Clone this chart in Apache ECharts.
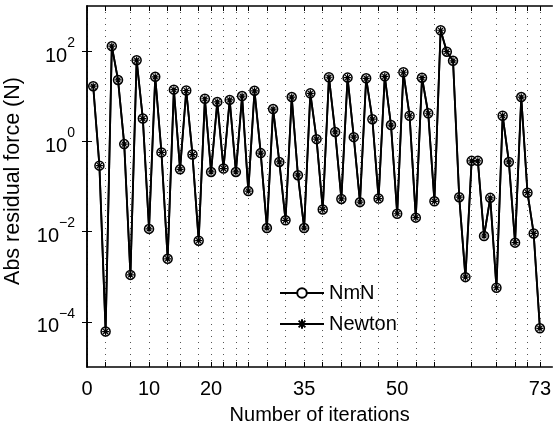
<!DOCTYPE html>
<html>
<head>
<meta charset="utf-8">
<script src="https://cdn.jsdelivr.net/npm/echarts@6/dist/echarts.min.js"></script>
<style>
html,body{margin:0;padding:0;background:#fff;}
#chart{width:554px;height:430px;}
</style>
</head>
<body>
<div id="chart"></div>
<script>
// iteration index 1..73
const iterations = [1,2,3,4,5,6,7,8,9,10,11,12,13,14,15,16,17,18,19,20,21,22,23,24,25,26,27,28,29,30,31,32,33,34,35,36,37,38,39,40,41,42,43,44,45,46,47,48,49,50,51,52,53,54,55,56,57,58,59,60,61,62,63,64,65,66,67,68,69,70,71,72,73];
// absolute residual force (N)
const residual = [16.7,0.29,6.1e-5,129,23,0.87,1.1e-3,63,3.2,0.0115,27,0.57,2.5e-3,14,0.24,13.4,0.51,6.3e-3,8.8,0.21,7.5,0.25,8.3,0.21,10.1,0.079,13.2,0.55,0.012,5.2,0.35,0.0178,9.6,0.178,0.012,11.6,1.12,0.031,26.4,1.62,0.053,25.9,1.24,0.045,25,3.1,0.054,27.7,2.3,0.0249,34,3.7,0.0204,25.8,4.2,0.047,290,97,61,0.058,9.8e-4,0.37,0.37,8e-3,0.056,5.7e-4,3.7,0.35,5.7e-3,9.6,0.073,9.1e-3,7.2e-5];
const seriesNames = ['NmN','Newton'];
// x tick / grid positions and labels
const xTickValues = [0,3,7,10,13,15,18,20,22,24,26,29,32,35,38,41,44,47,50,53,56,62,66,69,71,73];
const xLabelValues = [0,10,20,35,50,73];
const yTickValues = [1e-4,1e-2,1,1e2];
const xTitle = 'Number of iterations';
const yTitle = 'Abs residual force (N)';

const pts = iterations.map((x,i)=>[x, residual[i]]);
const asterisk = 'path://M0,-10L0,10M-10,0L10,0M-7,-7L7,7M-7,7L7,-7';
const FONT = 'Liberation Sans, Arial, Helvetica, sans-serif';

const chart = echarts.init(document.getElementById('chart'), null, {renderer:'canvas'});
const axisLine = {show:true, lineStyle:{color:'#000', width:1.5}};
const option = {
  animation:false,
  backgroundColor:'#fff',
  textStyle:{fontFamily:FONT},
  grid:{left:87, top:6, width:469, height:366, containLabel:false},
  legend:{
    orient:'vertical', left:274, top:278, itemWidth:44, itemHeight:12, itemGap:11,
    textStyle:{fontSize:20, color:'#000', fontFamily:FONT},
    data:seriesNames
  },
  graphic:[{
    type:'text', left:2, top:'middle', rotation:Math.PI/2,
    x:0, y:0,
    style:{text:yTitle, fontSize:21.5, fontFamily:FONT, fill:'#000', textAlign:'center', textVerticalAlign:'middle'},
    position:[13,181]
  }],
  xAxis:[{
    type:'value', min:0, max:75, position:'bottom',
    axisLine:axisLine,
    axisTick:{show:true, inside:true, length:5, customValues:xTickValues, lineStyle:{color:'#000', width:1}},
    axisLabel:{show:true, customValues:xLabelValues, fontSize:20, color:'#000', margin:12, fontFamily:FONT},
    splitLine:{show:true, lineStyle:{color:'#555', width:1, type:[1,5]}},
    name:xTitle, nameLocation:'middle', nameGap:38,
    nameTextStyle:{fontSize:20, color:'#000', fontFamily:FONT}
  },{
    type:'value', min:0, max:75, position:'top',
    axisLine:axisLine,
    axisTick:{show:true, inside:true, length:5, customValues:xTickValues, lineStyle:{color:'#000', width:1}},
    axisLabel:{show:false}, splitLine:{show:false}
  }],
  yAxis:[{
    type:'log', min:1e-5, max:1e3, position:'left',
    axisLine:axisLine,
    axisTick:{show:true, inside:true, length:5, customValues:yTickValues, lineStyle:{color:'#000', width:1}},
    minorTick:{show:false},
    axisLabel:{show:true, customValues:yTickValues, margin:12, color:'#000',
      formatter:function(v){
        const e = Math.round(Math.log10(v));
        return '{b|10}{s|' + (e<0?'\u2212':'') + Math.abs(e) + '}';
      },
      rich:{
        b:{fontSize:20, fontFamily:FONT, color:'#000', lineHeight:30, verticalAlign:'bottom'},
        s:{fontSize:14, fontFamily:FONT, color:'#000', lineHeight:14, verticalAlign:'top'}
      }
    },
    splitLine:{show:false}
  },{
    type:'log', min:1e-5, max:1e3, position:'right',
    axisLine:axisLine,
    axisTick:{show:true, inside:true, length:5, customValues:yTickValues, lineStyle:{color:'#000', width:1}},
    axisLabel:{show:false}, splitLine:{show:false}
  }],
  series:[{
    name:seriesNames[0], type:'line', xAxisIndex:0, yAxisIndex:0, data:pts,
    symbol:'circle', symbolSize:9, showAllSymbol:true,
    lineStyle:{color:'#000', width:1.8},
    itemStyle:{color:'#fff', borderColor:'#000', borderWidth:1.5},
    z:2
  },{
    name:seriesNames[1], type:'line', xAxisIndex:0, yAxisIndex:0, data:pts,
    symbol:asterisk, symbolSize:7, showAllSymbol:true,
    lineStyle:{color:'#000', width:1.8},
    itemStyle:{color:'#000', borderColor:'#000', borderWidth:1.2},
    z:3
  }]
};
// graphic text: place by position only
option.graphic[0] = {
  type:'text', x:13, y:181, rotation:Math.PI/2,
  style:{text:yTitle, fontSize:21.5, fontFamily:FONT, fill:'#000', align:'center', verticalAlign:'middle'}
};
chart.setOption(option);
</script>
</body>
</html>
